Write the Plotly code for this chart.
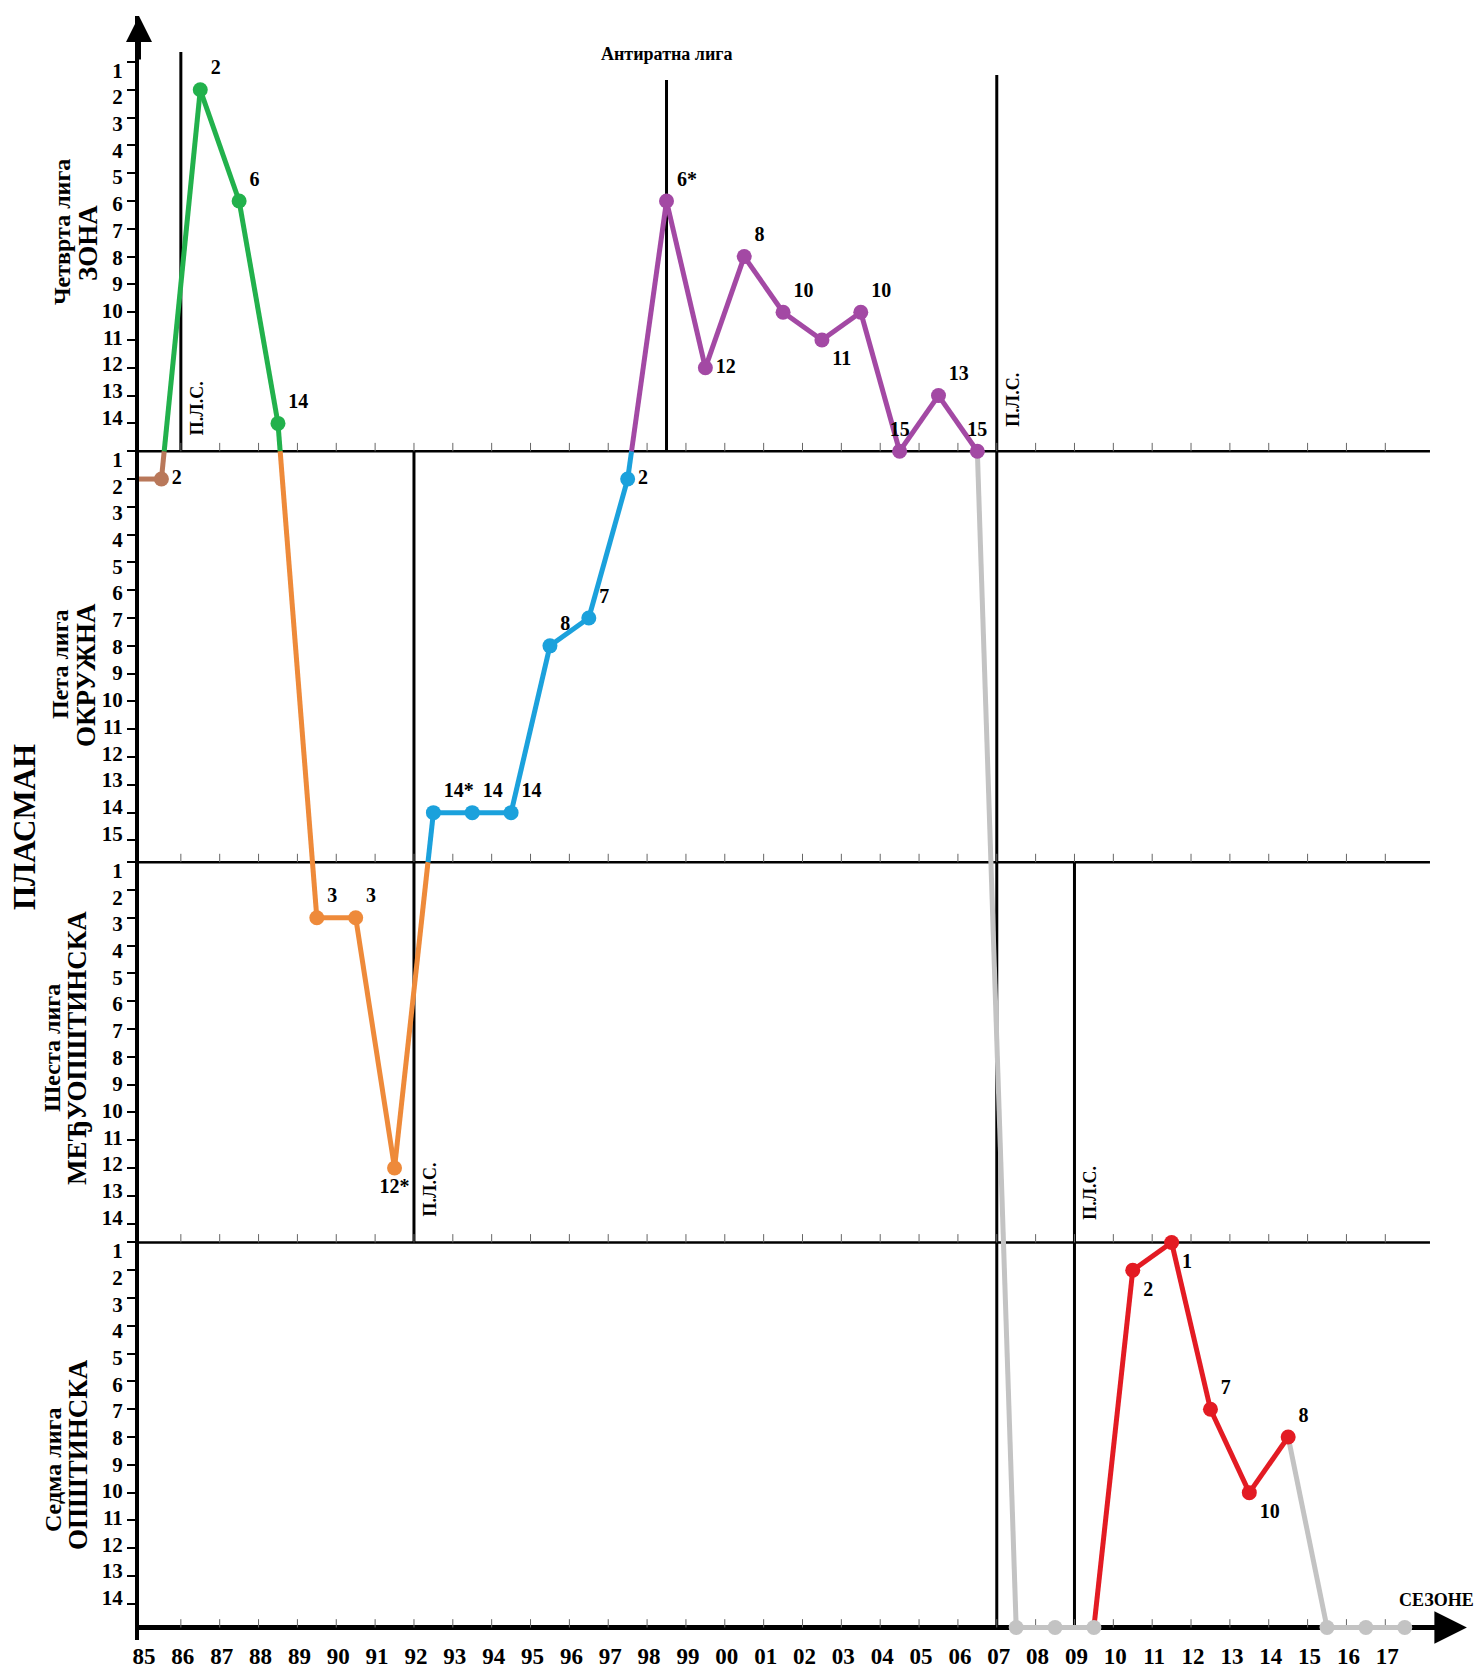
import plotly.graph_objects as go

# сезоне (85 = 1985/86 ... 17 = 2017/18)
season_ticks = ["85", "86", "87", "88", "89", "90", "91", "92", "93", "94", "95",
                "96", "97", "98", "99", "00", "01", "02", "03", "04", "05", "06",
                "07", "08", "09", "10", "11", "12", "13", "14", "15", "16", "17"]

# лига у којој је клуб играо (0 = није се такмичио) и освојено место
league = [5, 4, 4, 4, 6, 6, 6, 5, 5, 5, 5, 5, 5, 4, 4, 4, 4, 4, 4, 4, 4, 4,
          0, 0, 0, 7, 7, 7, 7, 7, 0, 0, 0]
place = [2, 2, 6, 14, 3, 3, 12, 14, 14, 14, 8, 7, 2, 6, 12, 8, 10, 11, 10, 15, 13, 15,
         None, None, None, 2, 1, 7, 10, 8, None, None, None]
place_text = ["2", "2", "6", "14", "3", "3", "12*", "14*", "14", "14", "8", "7", "2",
              "6*", "12", "8", "10", "11", "10", "15", "13", "15", "", "", "",
              "2", "1", "7", "10", "8", "", "", ""]
# периоди (боја линије)
stint = ["brown", "green", "green", "green", "orange", "orange", "orange",
         "blue", "blue", "blue", "blue", "blue", "blue",
         "purple", "purple", "purple", "purple", "purple", "purple", "purple", "purple", "purple",
         "gray", "gray", "gray", "red", "red", "red", "red", "red", "gray", "gray", "gray"]

league_names = {4: ("Четврта лига", "ЗОНА"), 5: ("Пета лига", "ОКРУЖНА"),
                6: ("Шеста лига", "МЕЂУОПШТИНСКА"), 7: ("Седма лига", "ОПШТИНСКА")}
league_ranks = {4: 14, 5: 15, 6: 14, 7: 14}

plc_seasons = [1, 7, 22, 24]   # П.Л.С. (86, 92, 07, 09)
antiwar_season = 13.5          # Антиратна лига

# --- изглед ---
colors = {"brown": "#B9785A", "green": "#22B14C", "orange": "#EE8A3A", "blue": "#1BA1DC",
          "purple": "#A349A4", "red": "#E31B23", "gray": "#C3C3C3"}
label_pos = ["middle right", "top right", "top right", "top right", "top right", "top right",
             "bottom center", "top right", "top right", "top right", "top right", "top right",
             "middle right", "top right", "middle right", "top right", "top right", "bottom right",
             "top right", "top center", "top right", "top center", "top center", "top center",
             "top center", "bottom right", "bottom right", "top right", "bottom right", "top right",
             "top center", "top center", "top center"]
band_top = {4: 0, 5: 14, 6: 28.78, 7: 42.46}
axis_g = 56.31
band_bottom = {4: 14, 5: 28.78, 6: 42.46, 7: axis_g}
FONT = "Liberation Serif"
XRANGE = [-0.077, 34.18]
YRANGE = [56.76, -1.655]


def px(p):   # хоризонтална позиција (пиксели) -> paper
    return (p - 139) / 1331


def py(p):   # вертикална позиција (пиксели) -> paper
    return (1640 - p) / 1624


n = len(season_ticks)
xs = [i + 0.5 for i in range(n)]
ys = [band_top[l] + p - 1 if l else axis_g for l, p in zip(league, place)]

segs = {k: ([], []) for k in colors}


def add_seg(c, x0, y0, x1, y1):
    segs[c][0].extend([x0, x1, None])
    segs[c][1].extend([y0, y1, None])


add_seg(stint[0], XRANGE[0], ys[0], xs[0], ys[0])
for i in range(n - 1):
    c0, c1 = stint[i], stint[i + 1]
    x0, y0, x1, y1 = xs[i], ys[i], xs[i + 1], ys[i + 1]
    if c0 == c1:
        add_seg(c0, x0, y0, x1, y1)
    elif league[i + 1] == 0 or league[i] == 0:
        add_seg(c1, x0, y0, x1, y1)
    else:
        b = band_bottom[league[i]] if y1 > y0 else band_top[league[i]]
        t = (b - y0) / (y1 - y0)
        xb = x0 + t * (x1 - x0)
        add_seg(c0, x0, y0, xb, b)
        add_seg(c1, xb, b, x1, y1)

fig = go.Figure()

# ситне црте на линијама лига
tx, ty = [], []
for g in [14, 28.78, 42.46, axis_g]:
    for s in range(1, n):
        tx.extend([s, s, None])
        ty.extend([g, g - 0.3, None])
fig.add_trace(go.Scatter(x=tx, y=ty, mode="lines", line=dict(color="#666", width=1),
                         hoverinfo="skip"))

for c, (lx, ly) in segs.items():
    if lx:
        fig.add_trace(go.Scatter(x=lx, y=ly, mode="lines",
                                 line=dict(color=colors[c], width=5), hoverinfo="skip"))

for c in colors:
    idx = [i for i in range(n) if stint[i] == c]
    fig.add_trace(go.Scatter(
        x=[xs[i] for i in idx], y=[ys[i] for i in idx], mode="markers+text",
        marker=dict(color=colors[c], size=15),
        text=[place_text[i] for i in idx], textposition=[label_pos[i] for i in idx],
        textfont=dict(family=FONT, size=20, color="black", weight="bold"),
        cliponaxis=False))

shapes = []
for g in [14, 28.78, 42.46]:
    shapes.append(dict(type="line", x0=XRANGE[0], x1=33.15, y0=g, y1=g,
                       line=dict(color="black", width=2.5), layer="below"))
shapes.append(dict(type="line", x0=XRANGE[0], x1=33.6, y0=axis_g, y1=axis_g,
                   line=dict(color="black", width=5), layer="below"))
plc_spans = [(-0.36, 14), (14, 42.46), (0.47, axis_g), (28.78, axis_g)]
for s, (a, b) in zip(plc_seasons, plc_spans):
    shapes.append(dict(type="line", x0=s, x1=s, y0=a, y1=b,
                       line=dict(color="black", width=3), layer="below"))
shapes.append(dict(type="line", x0=antiwar_season, x1=antiwar_season, y0=0.65, y1=14,
                   line=dict(color="black", width=3), layer="below"))

bold = dict(family=FONT, color="black", weight="bold")
ann = []
plc_label_y = [13.5, 41.6, 13.2, 41.7]
for s, g in zip(plc_seasons, plc_label_y):
    ann.append(dict(x=s, y=g, text="П.Л.С.", showarrow=False, textangle=-90,
                    xshift=16, xanchor="center", yanchor="bottom", font=dict(size=18, **bold)))
ann.append(dict(x=antiwar_season, y=-0.3, text="Антиратна лига", showarrow=False,
                xanchor="center", yanchor="middle", font=dict(size=18, **bold)))
name_pos = {4: (62, 232, 88, 243), 5: (60, 664, 86, 675),
            6: (52, 1048, 77, 1048), 7: (53, 1470, 78, 1455)}
for l, (a, b) in league_names.items():
    x1, y1, x2, y2 = name_pos[l]
    ann.append(dict(xref="paper", yref="paper", x=px(x1), y=py(y1), text=a,
                    showarrow=False, textangle=-90, xanchor="center", yanchor="middle",
                    font=dict(size=24, **bold)))
    ann.append(dict(xref="paper", yref="paper", x=px(x2), y=py(y2), text=b,
                    showarrow=False, textangle=-90, xanchor="center", yanchor="middle",
                    font=dict(size=27, **bold)))
ann.append(dict(xref="paper", yref="paper", x=px(24), y=py(827), text="ПЛАСМАН",
                showarrow=False, textangle=-90, xanchor="center", yanchor="middle",
                font=dict(size=31, **bold)))
ann.append(dict(xref="paper", yref="paper", x=px(1436), y=py(1600), text="СЕЗОНЕ",
                showarrow=False, xanchor="center", yanchor="middle",
                font=dict(size=18, **bold)))
# стрелице
ann.append(dict(x=0, y=-1.655, ax=0, ay=45, xshift=-3, showarrow=True, arrowhead=2,
                arrowsize=1.3, arrowwidth=4, arrowcolor="black", text=""))
ann.append(dict(x=34.1, y=axis_g, ax=-40, ay=0, showarrow=True, arrowhead=2, arrowsize=1.3,
                arrowwidth=5, arrowcolor="black", text=""))

# црте на y оси на местима пласмана, а ознаке мало збијеније (као на оригиналу)
tickvals, labelvals, ticktext = [], [], []
for l, k in league_ranks.items():
    for r in range(1, k + 1):
        tickvals.append(band_top[l] + r - 1)
        labelvals.append(band_top[l] + 0.3 + (r - 1) * 0.96)
        ticktext.append(str(r))

fig.add_trace(go.Scatter(x=[None], y=[None], yaxis="y2", hoverinfo="skip"))

# страница има 8px маргину, па је цртеж померен за толико
fig.update_layout(
    width=1483, height=1673, margin=dict(l=131, r=21, t=8, b=41),
    plot_bgcolor="white", paper_bgcolor="white", showlegend=False,
    shapes=shapes, annotations=ann,
    xaxis=dict(range=XRANGE, tickvals=list(range(n)), ticktext=season_ticks,
               showgrid=False, zeroline=False, showline=False, ticks="",
               ticklabelshift=2,
               tickfont=dict(family=FONT, size=23, color="black", weight="bold")),
    yaxis=dict(range=YRANGE, tickvals=tickvals, showticklabels=False,
               showgrid=False, zeroline=False, showline=True, linewidth=4, linecolor="black",
               ticks="outside", ticklen=8, tickwidth=2, tickcolor="black"),
    yaxis2=dict(range=YRANGE, overlaying="y", side="left", anchor="x",
                tickvals=labelvals, ticktext=ticktext,
                showgrid=False, zeroline=False, showline=True, linewidth=4,
                linecolor="rgba(0,0,0,0)", ticks="outside", ticklen=8,
                tickcolor="rgba(0,0,0,0)",
                tickfont=dict(family=FONT, size=21, color="black", weight="bold")),
)

fig.write_html("out.html")
